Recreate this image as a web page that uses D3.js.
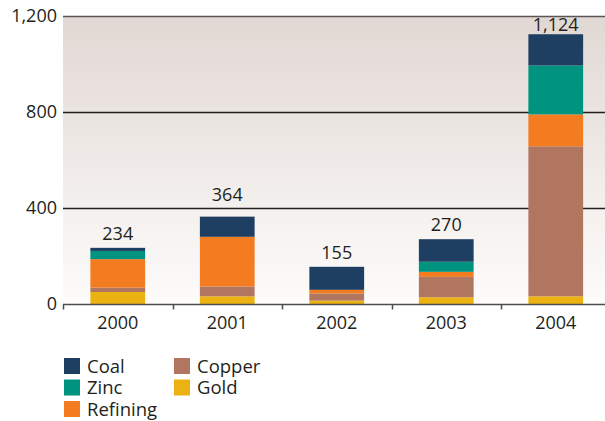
<!DOCTYPE html>
<html>
<head>
<meta charset="utf-8">
<script src="https://cdn.jsdelivr.net/npm/d3@7"></script>
<style>
  body { margin: 0; background: #fff; }
  text { font-family: "Open Sans", sans-serif; fill: #231f20; }
</style>
</head>
<body>
<div id="chart"></div>
<script>
// values
var years = ["2000", "2001", "2002", "2003", "2004"];
var gold     = [50, 32, 14, 28, 32];
var copper   = [18, 41, 30, 85, 625];
var refining = [119, 207, 15, 21, 133];
var zinc     = [34, 0, 0, 42, 204];
var coal     = [13, 84, 96, 94, 130];
var totals   = [234, 364, 155, 270, 1124];
var yTicks   = [0, 400, 800, 1200];

// stack order bottom -> top
var seriesNames = ["Gold", "Copper", "Refining", "Zinc", "Coal"];
var seriesVals  = [gold, copper, refining, zinc, coal];
var colors = {
  Coal: "#1f3f62",
  Zinc: "#00937f",
  Refining: "#f37b20",
  Copper: "#b07660",
  Gold: "#ecb212"
};

var width = 605, height = 421;
var plotLeft = 63, plotTop = 16, plotBottom = 304;

var svg = d3.select("#chart").append("svg")
  .attr("width", width)
  .attr("height", height);

var rows = years.map(function(yr, i) {
  var r = { year: yr };
  seriesNames.forEach(function(s, k) { r[s] = seriesVals[k][i]; });
  return r;
});

var x = d3.scaleBand()
  .domain(years)
  .range([plotLeft, 610.5])
  .paddingInner(0.5)
  .paddingOuter(0.25);

var y = d3.scaleLinear()
  .domain([0, 1200])
  .range([plotBottom, plotTop]);

// background gradient
var grad = svg.append("defs").append("linearGradient")
  .attr("id", "bg")
  .attr("x1", 0).attr("y1", 0).attr("x2", 0).attr("y2", 1);
grad.append("stop").attr("offset", "0%").attr("stop-color", "#e1d8d3");
grad.append("stop").attr("offset", "100%").attr("stop-color", "#fdfcfb");

svg.append("rect")
  .attr("x", plotLeft)
  .attr("y", y(1200))
  .attr("width", width - plotLeft)
  .attr("height", y(0) - y(1200))
  .attr("fill", "url(#bg)");

// grid lines
svg.append("g")
  .selectAll("line")
  .data(yTicks.filter(function(d) { return d > 0; }))
  .enter().append("line")
  .attr("x1", plotLeft)
  .attr("x2", width)
  .attr("y1", function(d) { return Math.round(y(d)) + 0.5; })
  .attr("y2", function(d) { return Math.round(y(d)) + 0.5; })
  .attr("stroke", function(d) { return d == 1200 ? "#5a5655" : "#231f20"; })
  .attr("stroke-width", 1.4);

// y labels
svg.append("g")
  .selectAll("text")
  .data(yTicks)
  .enter().append("text")
  .attr("x", plotLeft - 6)
  .attr("y", function(d) { return y(d); })
  .attr("dy", "0.35em")
  .attr("text-anchor", "end")
  .style("font-size", "18px")
  .text(function(d) { return d3.format(",")(d); });

// stacked bars
var stack = d3.stack().keys(seriesNames);
var layers = stack(rows);

svg.append("g")
  .selectAll("g")
  .data(layers)
  .enter().append("g")
  .attr("fill", function(d) { return colors[d.key]; })
  .selectAll("rect")
  .data(function(d) { return d; })
  .enter().append("rect")
  .attr("x", function(d) { return x(d.data.year); })
  .attr("y", function(d) { return y(d[1]); })
  .attr("width", x.bandwidth())
  .attr("height", function(d) { return y(d[0]) - y(d[1]); });

// total labels, nudged above a grid line if they would sit on it
function labelY(v) {
  var base = y(v) - 8;
  yTicks.forEach(function(t) {
    var gy = y(t);
    if (t > 0 && t < 1200 && gy > base - 14 && gy < base + 3) base = gy - 7;
  });
  return Math.max(base, 31);
}

svg.append("g")
  .selectAll("text")
  .data(totals)
  .enter().append("text")
  .attr("x", function(d, i) { return x(years[i]) + x.bandwidth() / 2; })
  .attr("y", function(d) { return labelY(d); })
  .attr("text-anchor", "middle")
  .style("font-size", "18px")
  .text(function(d) { return d3.format(",")(d); });

// x axis
var xAxis = svg.append("g").attr("transform", "translate(0," + (plotBottom + 0.5) + ")");
xAxis.append("line")
  .attr("x1", plotLeft).attr("x2", width)
  .attr("stroke", "#4d4d4f").attr("stroke-width", 1.5);

var step = x.step();
var bounds = d3.range(years.length).map(function(i) { return plotLeft + i * step; });
xAxis.selectAll(".tick")
  .data(bounds)
  .enter().append("line")
  .attr("x1", function(d) { return Math.round(d) + 0.5; })
  .attr("x2", function(d) { return Math.round(d) + 0.5; })
  .attr("y1", 0).attr("y2", 5)
  .attr("stroke", "#4d4d4f").attr("stroke-width", 1.5);

xAxis.selectAll("text")
  .data(years)
  .enter().append("text")
  .attr("x", function(d) { return x(d) + x.bandwidth() / 2; })
  .attr("y", 24)
  .attr("text-anchor", "middle")
  .style("font-size", "18px")
  .text(function(d) { return d; });

// legend
var legendItems = ["Coal", "Zinc", "Refining", "Copper", "Gold"];
var legend = svg.append("g").attr("transform", "translate(64,358)");
var item = legend.selectAll("g")
  .data(legendItems)
  .enter().append("g")
  .attr("transform", function(d, i) {
    var col = i < 3 ? 0 : 1;
    var row = i < 3 ? i : i - 3;
    return "translate(" + (col * 110) + "," + (row * 21.5) + ")";
  });
item.append("rect")
  .attr("width", 16)
  .attr("height", 16)
  .attr("fill", function(d) { return colors[d]; });
item.append("text")
  .attr("x", 23)
  .attr("y", 8)
  .attr("dy", "0.36em")
  .style("font-size", "18.5px")
  .text(function(d) { return d; });
</script>
</body>
</html>
